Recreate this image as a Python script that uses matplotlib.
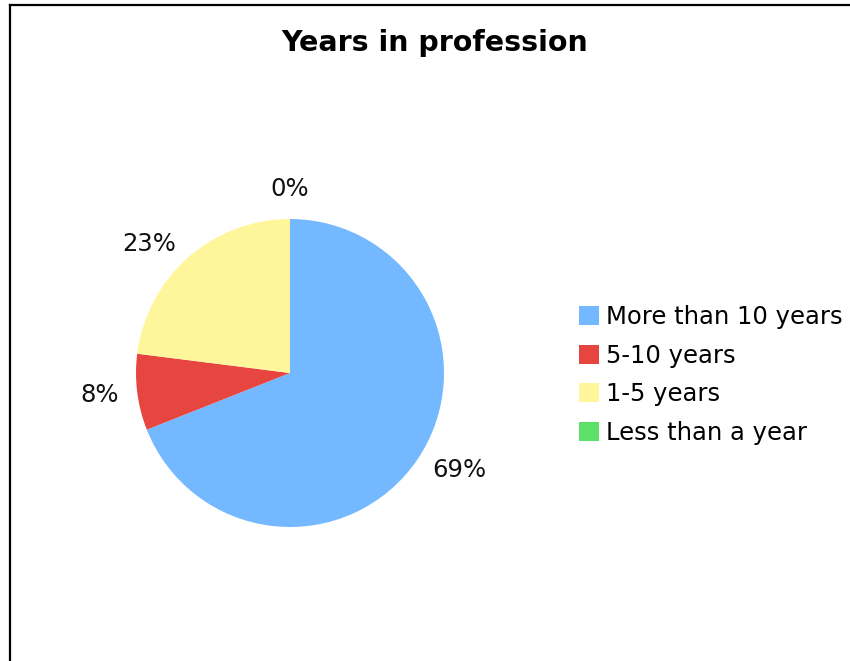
# Years in profession - pie chart with legend on the right
import matplotlib
matplotlib.use('Agg')
import matplotlib.pyplot as plt
from matplotlib.lines import Line2D

plt.rcParams['font.family'] = ['DejaVu Sans']

# ── data ──
categories = ['More than 10 years', '5-10 years', '1-5 years', 'Less than a year']
shares = [69, 8, 23, 0]
colors = ['#74B9FF', '#E64540', '#FFF59B', '#5DE068']

W, H = 850, 661
fig = plt.figure(figsize=(W / 100, H / 100), dpi=100)

# pie axes: centre (290, 373) px, radius 154 px
cx, cy, r = 290, 373, 154
ax = fig.add_axes([(cx - r) / W, (H - cy - r) / H, 2 * r / W, 2 * r / H])
wedges, texts = ax.pie(shares, colors=colors, startangle=90, counterclock=False,
                       labels=[f'{v}%' for v in shares], labeldistance=1.12,
                       textprops={'fontsize': 17.5, 'color': '#111111'},
                       wedgeprops={'linewidth': 0})
ax.set_xlim(-1, 1)
ax.set_ylim(-1, 1)
ax.set_aspect('equal')
ax.axis('off')

# zero slice sits straight up: centre its label above the pie
for v, t in zip(shares, texts):
    if v == 0:
        t.set_ha('center')
        t.set_va('bottom')

fig.text(435 / W, 1 - 43 / H, 'Years in profession', ha='center', va='center',
         fontsize=20.5, fontweight='bold')

fig.legend(wedges, categories, loc='center left',
           bbox_to_anchor=(579 / W, 1 - 375 / H), frameon=False,
           fontsize=17.5, handlelength=0.82, handleheight=0.82,
           handletextpad=0.3, labelspacing=0.6, borderpad=0, borderaxespad=0)

# chart frame (left and top edges visible)
fig.add_artist(Line2D([9.5 / W, 9.5 / W], [0, 1 - 4.5 / H], color='black', linewidth=1.6,
                      transform=fig.transFigure))
fig.add_artist(Line2D([9.5 / W, 1], [1 - 4.5 / H, 1 - 4.5 / H], color='black', linewidth=1.6,
                      transform=fig.transFigure))

fig.savefig('out.png', dpi=100, facecolor='white')
plt.close(fig)
